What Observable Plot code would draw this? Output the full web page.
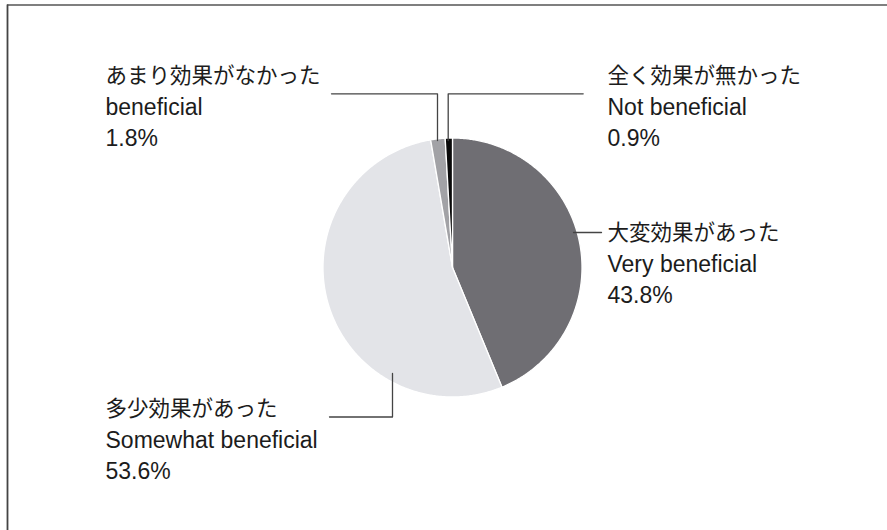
<!DOCTYPE html>
<html>
<head>
<meta charset="utf-8">
<script src="https://cdn.jsdelivr.net/npm/d3@7"></script>
<script src="https://cdn.jsdelivr.net/npm/@observablehq/plot@0.6"></script>
<style>
  html, body { margin: 0; padding: 0; background: #fff; }
  #chart svg { display: block; }
</style>
</head>
<body>
<div id="chart"></div>
<script>
// ---- data ----
const categories = ["大変効果があった", "多少効果があった", "あまり効果がなかった", "全く効果が無かった"];
const englishLabels = ["Very beneficial", "Somewhat beneficial", "beneficial", "Not beneficial"];
const shares = [43.8, 53.6, 1.8, 0.9];

// ---- styles ----
const sliceColors = ["#6f6e73", "#e3e4e8", "#a2a2a6", "#0a0a0a"];
const inkColor = "#1c1c1c";
const lineColor = "#444";

// ---- layout (pixel space) ----
const W = 887, H = 530;
const pieGeom = {cx: 452, cy: 267, r: 129.5};
const labelPos = [
  {x: 607, y: 232.5},
  {x: 105, y: 409},
  {x: 105, y: 76},
  {x: 607, y: 76}
];
const leaderPaths = [
  [[573, 232], [601, 232]],
  [[392, 373], [392, 416.5], [329, 416.5]],
  [[437, 140], [437, 93.3], [331, 93.3]],
  [[447.7, 140], [447.7, 93.3], [582.7, 93.3]]
];

// ---- derived tables ----
const rows = categories.map((c, i) => ({category: c, english: englishLabels[i], share: shares[i], i}));
const arcs = d3.pie().sort(null).value(d => d.share).startAngle(0).endAngle(2 * Math.PI)(rows);

const slicePts = [];
for (const a of arcs) {
  const cat = a.data.category;
  slicePts.push({category: cat, x: pieGeom.cx, y: pieGeom.cy});
  const n = Math.max(2, Math.ceil((a.endAngle - a.startAngle) / (Math.PI / 360)));
  for (let k = 0; k <= n; k++) {
    const t = a.startAngle + (a.endAngle - a.startAngle) * k / n;
    slicePts.push({category: cat, x: pieGeom.cx + pieGeom.r * Math.sin(t), y: pieGeom.cy - pieGeom.r * Math.cos(t)});
  }
}

const leaderPts = leaderPaths.flatMap((p, i) => p.map(([x, y]) => ({id: i, x, y})));
const jpLabels = rows.map(d => ({x: labelPos[d.i].x, y: labelPos[d.i].y, text: d.category}));
const enLabels = rows.map(d => ({
  x: labelPos[d.i].x,
  y: labelPos[d.i].y + 69.5,
  text: d.english + "\n" + d.share.toFixed(1) + "%"
}));

const chart = Plot.plot({
  width: W,
  height: H,
  margin: 0,
  x: {domain: [0, W], range: [0, W], axis: null},
  y: {domain: [0, H], range: [0, H], axis: null},
  color: {domain: categories, range: sliceColors},
  style: {background: "#fff", fontFamily: '"Liberation Sans", "Noto Sans CJK JP", sans-serif'},
  marks: [
    // frame (top and left edges)
    Plot.ruleY([4.5], {x1: 7, x2: W, stroke: "#555", strokeWidth: 1.6}),
    Plot.ruleX([7], {y1: 4.5, y2: H, stroke: "#444", strokeWidth: 1.8}),
    // pie slices
    Plot.line(slicePts, {x: "x", y: "y", z: "category", fill: "category", stroke: "#fff", strokeWidth: 1.3, curve: "linear-closed", strokeLinejoin: "round"}),
    // leader lines
    Plot.line(leaderPts, {x: "x", y: "y", z: "id", stroke: lineColor, strokeWidth: 1.3}),
    // labels
    Plot.text(jpLabels, {x: "x", y: "y", text: "text", textAnchor: "start", lineAnchor: "middle", fontSize: 21.5, fill: inkColor, fontFamily: '"Noto Sans CJK JP", sans-serif'}),
    Plot.text(enLabels, {x: "x", y: "y", text: "text", textAnchor: "start", lineAnchor: "bottom", lineHeight: 1.33, fontSize: 23, fill: inkColor})
  ]
});
document.getElementById("chart").appendChild(chart);
</script>
</body>
</html>
